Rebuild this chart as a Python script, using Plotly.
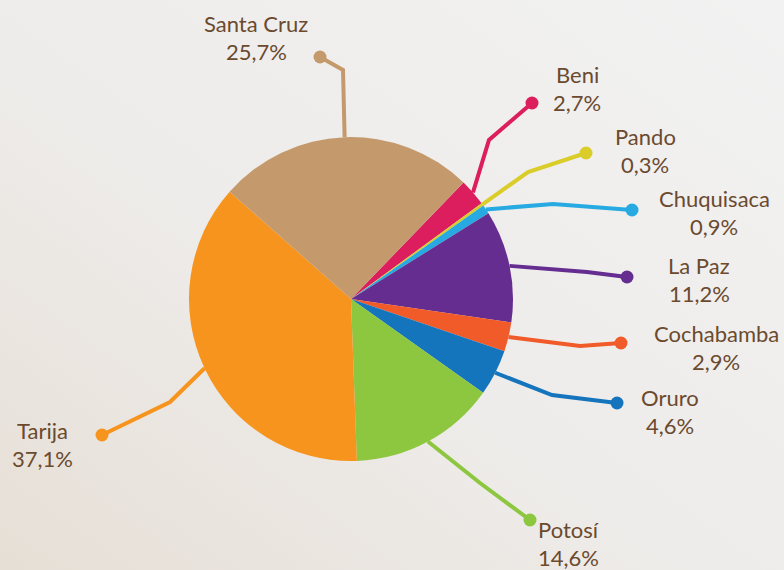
import math
import base64
import plotly.graph_objects as go

# ---- data ----
departments = ["Beni", "Pando", "Chuquisaca", "La Paz", "Cochabamba", "Oruro", "Potosí", "Tarija", "Santa Cruz"]
shares = [2.7, 0.3, 0.9, 11.2, 2.9, 4.6, 14.6, 37.1, 25.7]
colors = ["#dc1e5e", "#dacd2a", "#27aae1", "#652d90", "#f15a29", "#1474bc", "#8dc63f", "#f7941d", "#c49a6c"]

# ---- layout positions (pixels) ----
W, H = 784, 570
CX, CY, R = 351, 299, 162
START_ANGLE = 44  # degrees clockwise from 12 o'clock where first slice starts

label_x = [577, 645, 714, 699, 716, 670, 568, 42, 256]
label_y = [74, 136, 198, 265, 333, 397, 529, 430, 23]
elbows = [(489, 140), (528, 172), (553, 204), (587, 272), (580, 346), (552, 395), (480, 483), (170, 402), (343, 70)]
dots = [(532, 103), (586, 153), (632, 210), (627, 277), (621, 343), (617, 403), (530, 520), (102, 435), (320, 57)]

TEXT_COLOR = "#6b4a2e"
FONT = "Lato"

fig = go.Figure()

# background gradient via svg data uri
svg = f'''<svg xmlns="http://www.w3.org/2000/svg" width="{W}" height="{H}">
<defs><linearGradient id="g" x1="1" y1="0" x2="0" y2="1">
<stop offset="0" stop-color="#f2f2f2"/><stop offset="0.55" stop-color="#eeecea"/><stop offset="1" stop-color="#e6dfd6"/>
</linearGradient></defs><rect width="{W}" height="{H}" fill="url(#g)"/></svg>'''
src = "data:image/svg+xml;base64," + base64.b64encode(svg.encode()).decode()
fig.add_layout_image(dict(source=src, xref="paper", yref="paper", x=0, y=1, sizex=1, sizey=1,
                          xanchor="left", yanchor="top", sizing="stretch", layer="below"))

# pie
dx0 = (CX - R) / W
dx1 = (CX + R) / W
dy0 = (H - CY - R) / H
dy1 = (H - CY + R) / H
fig.add_trace(go.Pie(labels=departments, values=shares, sort=False, direction="clockwise",
                     rotation=START_ANGLE, textinfo="none", hoverinfo="label+percent",
                     marker=dict(colors=colors, line=dict(width=0)),
                     domain=dict(x=[dx0, dx1], y=[dy0, dy1]), showlegend=False))

# leader lines computed from slice mid angles
total = sum(shares)
cum = 0.0
for i, v in enumerate(shares):
    mid = START_ANGLE + (cum + v / 2) / total * 360
    cum += v
    a = math.radians(mid)
    sx = CX + R * math.sin(a)
    sy = CY - R * math.cos(a)
    ex, ey = elbows[i]
    px, py = dots[i]
    fig.add_trace(go.Scatter(x=[sx, ex, px], y=[sy, ey, py], mode="lines",
                             line=dict(color=colors[i], width=4), hoverinfo="skip", showlegend=False))
    fig.add_trace(go.Scatter(x=[px], y=[py], mode="markers",
                             marker=dict(color=colors[i], size=13, line=dict(width=0)),
                             hoverinfo="skip", showlegend=False))
    pct = f"{v:.1f}".replace(".", ",") + "%"
    fig.add_annotation(x=label_x[i], y=label_y[i], text=departments[i], showarrow=False,
                       xref="x", yref="y", xanchor="center", yanchor="middle",
                       font=dict(family=FONT, size=22, color=TEXT_COLOR))
    fig.add_annotation(x=label_x[i], y=label_y[i] + 28, text=pct, showarrow=False,
                       xref="x", yref="y", xanchor="center", yanchor="middle",
                       font=dict(family=FONT, size=22, color=TEXT_COLOR))

fig.update_layout(
    width=W, height=H, margin=dict(l=0, r=0, t=0, b=0),
    paper_bgcolor="#efedea", plot_bgcolor="rgba(0,0,0,0)",
    xaxis=dict(range=[0, W], visible=False, fixedrange=True, domain=[0, 1]),
    yaxis=dict(range=[H, 0], visible=False, fixedrange=True, domain=[0, 1]),
)

fig.write_html("out.html", config={"displayModeBar": False},
               post_script="document.body.style.margin='0';document.body.style.overflow='hidden';")
